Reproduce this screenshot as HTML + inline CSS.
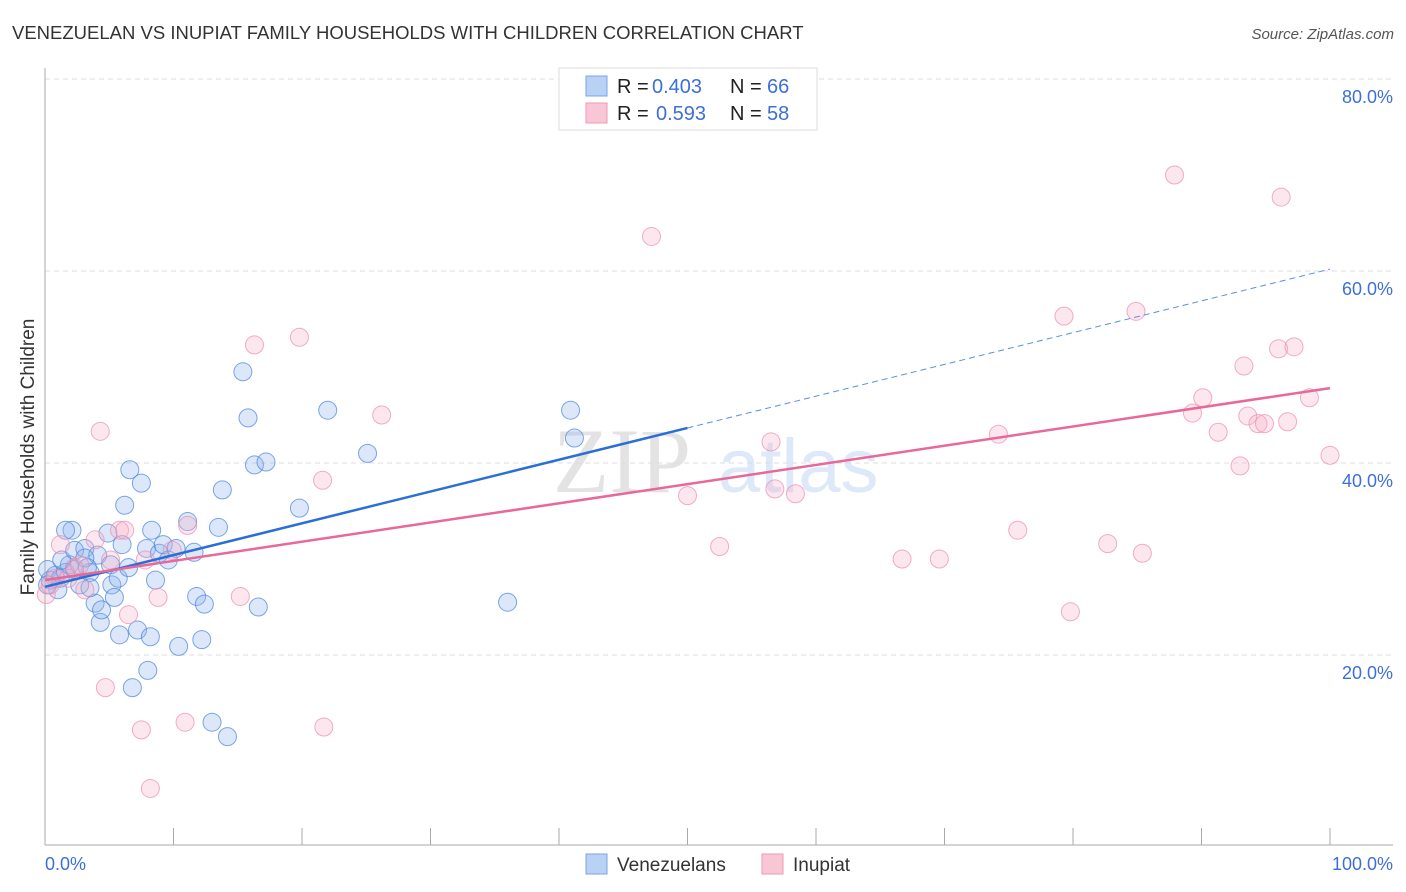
<!DOCTYPE html>
<html><head><meta charset="utf-8"><style>
body{margin:0;background:#fff;font-family:"Liberation Sans",sans-serif;}
svg{display:block}
</style></head><body>
<svg id="chart" width="1406" height="892" xmlns="http://www.w3.org/2000/svg">
<text x="12" y="39" font-size="18.5" fill="#333">VENEZUELAN VS INUPIAT FAMILY HOUSEHOLDS WITH CHILDREN CORRELATION CHART</text>
<text x="1394" y="39" font-size="15" fill="#555" font-style="italic" text-anchor="end">Source: ZipAtlas.com</text>
<text transform="translate(34,457) rotate(-90)" font-size="19" fill="#333" text-anchor="middle">Family Households with Children</text>
<g><text x="553" y="492" font-size="92" fill="#ddd" font-family="Liberation Serif,serif" opacity="0.8">ZIP</text><text x="718" y="492" font-size="76" fill="#c8daf5" opacity="0.6">atlas</text></g>
<g id="grid"></g><g id="marks"></g><g id="lines"></g>
<g>
<rect x="559" y="68" width="258" height="62" fill="#fff" stroke="#ddd"/>
<rect x="586" y="76" width="21" height="20" fill="#b8d1f5" stroke="#7aa4e6"/>
<rect x="586" y="103" width="21" height="20" fill="#f9c6d6" stroke="#ee9ab5"/>
<g font-size="20">
<text x="617" y="93" fill="#222">R =</text><text x="652" y="93" fill="#3d6fd8">0.403</text>
<text x="730" y="93" fill="#222">N =</text><text x="767" y="93" fill="#3d6fd8">66</text></g>
<g font-size="20">
<text x="617" y="120" fill="#222">R =</text><text x="656" y="120" fill="#3d6fd8">0.593</text>
<text x="730" y="120" fill="#222">N =</text><text x="767" y="120" fill="#3d6fd8">58</text></g>
</g>
<g>
<rect x="586" y="854" width="21" height="20" fill="#b8d1f5" stroke="#7aa4e6"/>
<text x="617" y="871" font-size="19" fill="#333">Venezuelans</text>
<rect x="762" y="854" width="21" height="20" fill="#f9c6d6" stroke="#ee9ab5"/>
<text x="793" y="871" font-size="19" fill="#333">Inupiat</text>
</g>
<text x="45" y="870" font-size="18" fill="#3d6fd8">0.0%</text>
<text x="1393" y="870" font-size="18" fill="#3d6fd8" text-anchor="end">100.0%</text>
</svg>
<script>
const yTicks=[20,40,60,80];
const yTickLabels=["20.0%","40.0%","60.0%","80.0%"];
const blueX=[0.4,0.8,0.2,1.2,1.6,1.9,1.3,2.3,2.1,2.7,3.1,3.5,3.9,4.1,4.3,4.4,4.9,5.1,5.2,5.4,5.7,5.8,6.0,6.2,6.5,6.6,6.8,7.2,7.5,7.9,8.0,8.2,8.3,8.6,8.9,9.2,9.6,10.2,10.4,11.1,11.6,11.8,12.2,12.4,13.0,13.5,13.8,14.2,15.4,15.8,16.3,16.6,17.2,19.8,22.0,25.1,36.0,40.9,41.2,3.5,1.0,2.3,3.1,1.6,0.2,3.3];
const blueY=[27.8,28.3,28.9,28.0,28.6,29.4,29.9,30.9,33.0,27.3,31.1,28.6,25.4,30.4,23.4,24.7,32.7,29.4,27.3,26.0,28.0,22.1,31.5,35.6,29.1,39.3,16.6,22.6,37.9,31.1,18.4,21.9,33.0,27.8,30.6,31.5,29.9,31.1,20.9,33.9,30.7,26.1,21.6,25.3,13.0,33.3,37.2,11.5,49.5,44.7,39.8,25.0,40.1,35.3,45.5,41.0,25.5,45.5,42.6,27.0,26.8,28.9,30.1,33.0,27.3,29.1];
const pinkX=[0.1,0.4,0.8,1.2,1.8,2.3,3.1,3.9,4.3,4.7,5.1,5.8,6.2,6.5,7.5,7.8,8.2,8.8,9.9,10.9,11.1,15.2,16.3,19.8,21.6,21.7,26.2,47.2,50.0,52.5,56.5,56.8,58.4,66.7,69.6,74.2,75.7,79.3,79.8,82.7,84.9,85.4,87.9,89.3,90.1,91.3,93.0,93.3,93.6,94.4,94.9,96.0,96.2,96.7,97.2,98.4,100,2.7];
const pinkY=[26.3,27.3,28.0,31.5,28.0,29.1,26.8,32.0,43.3,16.6,29.9,33.0,33.0,24.2,12.2,29.9,6.1,26.0,30.9,13.0,33.5,26.1,52.3,53.1,38.2,12.5,45.0,63.6,36.6,31.3,42.2,37.3,36.8,30.0,30.0,43.0,33.0,55.3,24.5,31.6,55.8,30.6,70.0,45.2,46.8,43.2,39.7,50.1,44.9,44.1,44.1,51.9,67.7,44.3,52.1,46.8,40.8,29.4];
const blueFit=[27.1,60.2];
const pinkFit=[27.8,47.8];
const NS="http://www.w3.org/2000/svg";
const sx=v=>45+v*12.85, sy=v=>847-v*9.6;
function mk(t,a,p){const e=document.createElementNS(NS,t);for(const k in a)e.setAttribute(k,a[k]);p.appendChild(e);return e;}
const grid=document.getElementById('grid'),marks=document.getElementById('marks'),lines=document.getElementById('lines');
yTicks.forEach((t,i)=>{
 const g=mk('line',{x1:45,x2:1393,y1:sy(t),y2:sy(t),stroke:'#ddd','stroke-dasharray':'5,4'},grid);
 
 
 const l=mk('text',{x:1393,y:sy(t)+24,'font-size':18,fill:'#3d6fd8','text-anchor':'end'},grid);
 l.textContent=yTickLabels[i];
 
 
});
const ax=mk('line',{x1:45,x2:1393,y1:845,y2:845,stroke:'#aaa'},grid);


const ay=mk('line',{x1:45,x2:45,y1:68,y2:845,stroke:'#aaa'},grid);


for(let i=0;i<=10;i++){
 const tk=mk('line',{x1:sx(i*10),x2:sx(i*10),y1:828,y2:845,stroke:'#aaa'},grid);
 
 
}
blueX.forEach((x,i)=>{
 const c=mk('circle',{cx:sx(x),cy:sy(blueY[i]),r:9,fill:'rgba(140,180,240,0.3)',stroke:'rgba(70,130,220,0.7)','stroke-width':1},marks);
 
 
});
pinkX.forEach((x,i)=>{
 const c=mk('circle',{cx:sx(x),cy:sy(pinkY[i]),r:9,fill:'rgba(248,175,200,0.3)',stroke:'rgba(235,140,175,0.7)','stroke-width':1},marks);
 
 
});
const bAt=x=>blueFit[0]+(blueFit[1]-blueFit[0])*x/100;
const bl=mk('line',{x1:sx(0),y1:sy(bAt(0)),x2:sx(50),y2:sy(bAt(50)),stroke:'#2a6fd6','stroke-width':2.5},lines);


const bd=mk('line',{x1:sx(50),y1:sy(bAt(50)),x2:sx(100),y2:sy(bAt(100)),stroke:'#5b8fe0','stroke-width':1,'stroke-dasharray':'6,4'},lines);


const pl=mk('line',{x1:sx(0),y1:sy(pinkFit[0]),x2:sx(100),y2:sy(pinkFit[1]),stroke:'#e8689a','stroke-width':2.5},lines);


</script>
</body></html>
